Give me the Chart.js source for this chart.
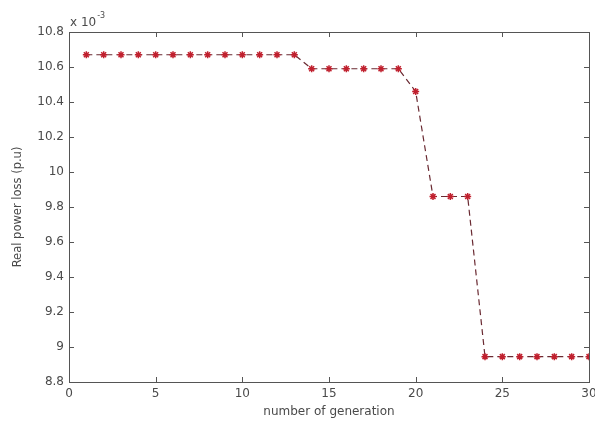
<!DOCTYPE html>
<html>
<head>
<meta charset="utf-8">
<script src="https://cdn.jsdelivr.net/npm/chart.js@4/dist/chart.umd.min.js"></script>
<style>
  html, body { margin: 0; padding: 0; background: #ffffff; }
  #c { display: block; }
</style>
</head>
<body>
<canvas id="c" width="595" height="423"></canvas>
<script>
// Data (values in units of 1e-3 p.u.)
const generations = [1,2,3,4,5,6,7,8,9,10,11,12,13,14,15,16,17,18,19,20,21,22,23,24,25,26,27,28,29,30];
const powerLoss = [10.67,10.67,10.67,10.67,10.67,10.67,10.67,10.67,10.67,10.67,10.67,10.67,10.67,
                   10.59,10.59,10.59,10.59,10.59,10.59,
                   10.46,
                   9.86,9.86,9.86,
                   8.945,8.945,8.945,8.945,8.945,8.945,8.945];
const xTicks = [0,5,10,15,20,25,30];
const yTicks = [8.8,9,9.2,9.4,9.6,9.8,10,10.2,10.4,10.6,10.8];
const xTitle = 'number of generation';
const yTitle = 'Real power loss (p.u)';
const exponentBase = 'x 10';
const exponentPow = '-3';

const FONT = 'DejaVu Sans, Arial, sans-serif';
const TEXT = '#4a4a4a';

const boxPlugin = {
  id: 'matlabBox',
  afterDraw(chart) {
    const {ctx, chartArea: a, scales: {x, y}} = chart;
    ctx.save();
    ctx.strokeStyle = '#555555';
    ctx.lineWidth = 1;
    ctx.strokeRect(Math.round(a.left) + 0.5, Math.round(a.top) + 0.5,
                   Math.round(a.right - a.left), Math.round(a.bottom - a.top));
    const tl = 5;
    ctx.beginPath();
    x.ticks.forEach(t => {
      const px = Math.round(x.getPixelForValue(t.value)) + 0.5;
      ctx.moveTo(px, a.bottom); ctx.lineTo(px, a.bottom - tl);
      ctx.moveTo(px, a.top); ctx.lineTo(px, a.top + tl);
    });
    y.ticks.forEach(t => {
      const py = Math.round(y.getPixelForValue(t.value)) + 0.5;
      ctx.moveTo(a.left, py); ctx.lineTo(a.left + tl, py);
      ctx.moveTo(a.right, py); ctx.lineTo(a.right - tl, py);
    });
    ctx.stroke();
    // exponent label
    ctx.fillStyle = TEXT;
    ctx.textBaseline = 'alphabetic';
    ctx.textAlign = 'left';
    ctx.font = '12px ' + FONT;
    ctx.fillText(exponentBase, a.left + 1, a.top - 6);
    const w = ctx.measureText(exponentBase).width;
    ctx.font = '8px ' + FONT;
    ctx.fillText(exponentPow, a.left + 1 + w + 1, a.top - 14);
    ctx.restore();
  }
};

new Chart(document.getElementById('c'), {
  type: 'line',
  data: {
    labels: generations,
    datasets: [{
      data: generations.map((g, i) => ({x: g, y: powerLoss[i]})),
      borderColor: '#6a2a32',
      borderWidth: 1.2,
      borderDash: [6, 4],
      tension: 0,
      fill: false,
      pointStyle: 'star',
      pointRadius: 3.5,
      pointBorderColor: '#c0202e',
      pointBackgroundColor: '#c0202e',
      pointBorderWidth: 1.5,
      pointHoverRadius: 3.5
    }]
  },
  options: {
    responsive: false,
    devicePixelRatio: 1,
    animation: false,
    events: [],
    layout: { padding: { top: 32, right: 6, left: 0, bottom: 0 } },
    plugins: { legend: { display: false }, tooltip: { enabled: false } },
    scales: {
      x: {
        type: 'linear',
        min: 0, max: 30,
        afterBuildTicks: s => { s.ticks = xTicks.map(v => ({value: v})); },
        afterFit: s => { s.height = 41; s.paddingLeft = 0; s.paddingRight = 0; },
        grid: { display: false, drawTicks: false },
        border: { display: false },
        ticks: { color: TEXT, font: { family: FONT, size: 12 }, padding: 5, maxRotation: 0, autoSkip: false },
        title: { display: true, text: xTitle, color: TEXT, font: { family: FONT, size: 12 }, padding: { top: 0, bottom: 4 } }
      },
      y: {
        min: 8.8, max: 10.8,
        afterBuildTicks: s => { s.ticks = yTicks.map(v => ({value: v})); },
        afterFit: s => { s.width = 69; s.paddingTop = 0; s.paddingBottom = 0; },
        grid: { display: false, drawTicks: false },
        border: { display: false },
        ticks: { color: TEXT, font: { family: FONT, size: 12 }, padding: 5, autoSkip: false,
                 callback: v => String(Math.round(v * 10) / 10) },
        title: { display: true, text: yTitle, color: TEXT, font: { family: FONT, size: 11.5 }, padding: { top: 11, bottom: 0 } }
      }
    }
  },
  plugins: [boxPlugin]
});
</script>
</body>
</html>
